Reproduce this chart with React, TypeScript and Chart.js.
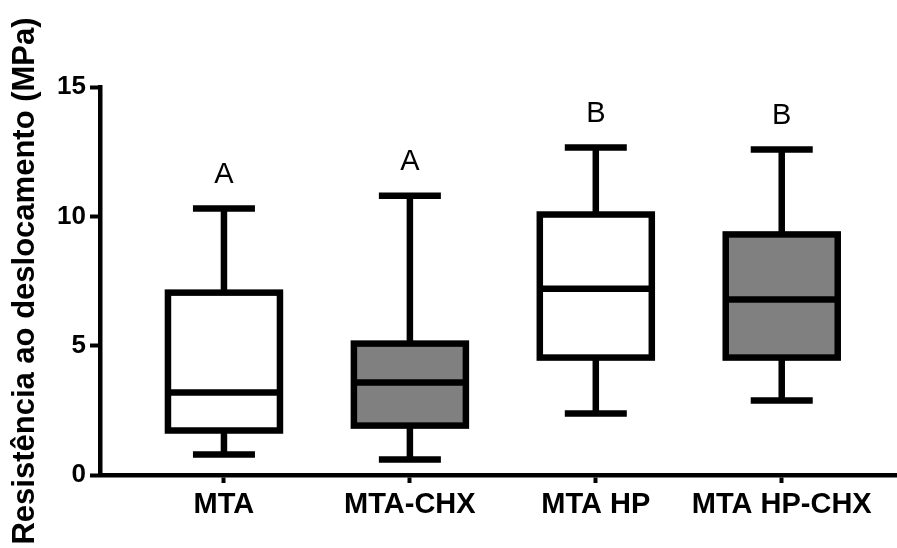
import React, { useEffect, useRef } from 'react';
import { Chart, registerables } from 'chart.js';

Chart.register(...registerables);

const categories = ['MTA', 'MTA-CHX', 'MTA HP', 'MTA HP-CHX'];
const positions = [1, 2, 3, 4];
const minValues = [0.79, 0.6, 2.38, 2.88];
const q1Values = [1.72, 1.91, 4.54, 4.54];
const medianValues = [3.19, 3.58, 7.2, 6.78];
const q3Values = [7.05, 5.08, 10.07, 9.3];
const maxValues = [10.3, 10.8, 12.66, 12.58];
const groupLetters = ['A', 'A', 'B', 'B'];
const boxFills = ['#ffffff', '#808080', '#ffffff', '#808080'];
const yTicks = [0, 5, 10, 15];

const FONT = '"Liberation Sans", Arial, sans-serif';
const LINE = 6.5;
const CAP_HALF = 31;

const boxPlotPlugin = {
  id: 'boxPlot',
  beforeDatasetsDraw(chart: any) {
    const ctx = chart.ctx;
    const xs = chart.scales.x;
    const ys = chart.scales.y;
    ctx.save();
    ctx.strokeStyle = '#000';
    ctx.lineWidth = LINE;
    ctx.lineCap = 'butt';
    positions.forEach((p, i) => {
      const x = xs.getPixelForValue(p);
      const pMin = ys.getPixelForValue(minValues[i]);
      const pMax = ys.getPixelForValue(maxValues[i]);
      const pQ1 = ys.getPixelForValue(q1Values[i]);
      const pQ3 = ys.getPixelForValue(q3Values[i]);
      ctx.beginPath();
      ctx.moveTo(x, pQ3);
      ctx.lineTo(x, pMax);
      ctx.moveTo(x - CAP_HALF, pMax);
      ctx.lineTo(x + CAP_HALF, pMax);
      ctx.moveTo(x, pQ1);
      ctx.lineTo(x, pMin);
      ctx.moveTo(x - CAP_HALF, pMin);
      ctx.lineTo(x + CAP_HALF, pMin);
      ctx.stroke();
    });
    ctx.restore();
  },
  afterDatasetsDraw(chart: any) {
    const ctx = chart.ctx;
    const ys = chart.scales.y;
    const meta = chart.getDatasetMeta(0);
    ctx.save();
    ctx.strokeStyle = '#000';
    ctx.lineWidth = LINE;
    meta.data.forEach((el: any, i: number) => {
      const { x, y, base, width } = el.getProps(['x', 'y', 'base', 'width'], true);
      const left = x - width / 2;
      const top = Math.min(y, base);
      const h = Math.abs(base - y);
      ctx.strokeRect(left, top, width, h);
      const pMed = ys.getPixelForValue(medianValues[i]);
      ctx.beginPath();
      ctx.moveTo(left, pMed);
      ctx.lineTo(left + width, pMed);
      ctx.stroke();
      ctx.fillStyle = '#000';
      ctx.font = `29px ${FONT}`;
      ctx.textAlign = 'center';
      ctx.textBaseline = 'alphabetic';
      ctx.fillText(groupLetters[i], x, ys.getPixelForValue(maxValues[i]) - 26);
    });
    ctx.restore();
  },
};

export default function App() {
  const canvasRef = useRef<HTMLCanvasElement | null>(null);

  useEffect(() => {
    const canvas = canvasRef.current;
    if (!canvas) return;
    const chart = new Chart(canvas, {
      type: 'bar',
      data: {
        datasets: [
          {
            data: positions.map((p, i) => ({ x: p, y: [q1Values[i], q3Values[i]] })) as any,
            backgroundColor: boxFills,
            borderWidth: 0,
            barThickness: 112,
          },
        ],
      },
      options: {
        animation: false,
        responsive: false,
        layout: { padding: { top: 87, left: 0, right: 0, bottom: 0 } },
        plugins: {
          legend: { display: false },
          tooltip: { enabled: false },
        },
        scales: {
          x: {
            type: 'linear',
            min: 0.3333,
            max: 4.62,
            offset: false,
            afterBuildTicks: (s: any) => {
              s.ticks = positions.map((v) => ({ value: v }));
            },
            afterFit: (s: any) => {
              s.height = 73;
            },
            ticks: {
              autoSkip: false,
              maxRotation: 0,
              color: '#000',
              padding: 5,
              font: { family: FONT, size: 29, weight: 'bold' },
              callback: (_v: any, i: number) => categories[i],
            },
            grid: {
              offset: false,
              drawOnChartArea: false,
              drawTicks: true,
              tickLength: 8,
              tickWidth: 4,
              tickColor: '#000',
            },
            border: { display: true, color: '#000', width: 4.5 },
          },
          y: {
            type: 'linear',
            min: 0,
            max: 15,
            afterBuildTicks: (s: any) => {
              s.ticks = yTicks.map((v) => ({ value: v }));
            },
            afterFit: (s: any) => {
              s.width = 100;
            },
            ticks: {
              color: '#000',
              padding: 4,
              font: { family: FONT, size: 26, weight: 'bold' },
            },
            grid: {
              drawOnChartArea: false,
              drawTicks: true,
              tickLength: 10,
              tickWidth: 4,
              tickColor: '#000',
            },
            border: { display: true, color: '#000', width: 4.5 },
            title: {
              display: true,
              text: 'Resistência ao deslocamento (MPa)',
              color: '#000',
              font: { family: FONT, size: 31, weight: 'bold' },
              padding: { top: 7, bottom: 0 },
            },
          },
        },
      } as any,
      plugins: [boxPlotPlugin],
    });
    return () => chart.destroy();
  }, []);

  return (
    <div style={{ position: 'absolute', left: 0, top: 0, width: 897, height: 548, background: '#fff' }}>
      <canvas ref={canvasRef} width={897} height={548} style={{ width: 897, height: 548, display: 'block' }} />
    </div>
  );
}
